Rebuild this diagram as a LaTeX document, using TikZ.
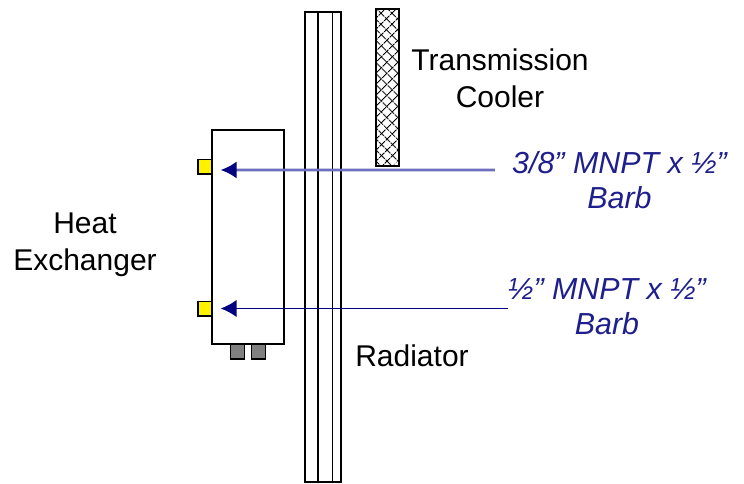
\documentclass[tikz,border=0pt]{standalone}
\usepackage{fontspec}
\setmainfont{Liberation Sans}
\usepackage{xcolor}
\usetikzlibrary{arrows.meta, patterns.meta}
\definecolor{labelblue}{RGB}{30,30,140}
\definecolor{arrowblue}{RGB}{0,0,128}
\definecolor{paleblue}{RGB}{110,110,190}

\begin{document}
\begin{tikzpicture}[
  x=0.75pt, y=-0.75pt,
  every node/.style={font=\fontsize{22.5}{27.75}\selectfont, align=center, inner sep=0pt},
  part/.style={draw, line width=1pt, fill=white, minimum width=54pt, minimum height=160.5pt},
  port/.style={draw, line width=1pt, fill=yellow, minimum width=10.5pt, minimum height=11pt},
  stub/.style={draw, line width=1pt, fill=black!50, minimum width=10.5pt, minimum height=11pt},
  callout/.style={text=labelblue, font=\fontsize{22.8}{26.5}\selectfont\itshape},
  arr/.style={-{Latex[length=12pt, width=13pt, color=arrowblue]}, arrowblue, line width=1.1pt},
]
  \useasboundingbox (0, 0) rectangle (744, 483);

  % radiator core
  \node[part, minimum width=27pt, minimum height=352.5pt] (rad) at (323, 247) {};
  \draw[line width=1pt] (318, 12) -- (318, 482);
  \draw[line width=1pt] (332.5, 12) -- (332.5, 482);

  \node[draw, line width=1.2pt, minimum width=17.25pt, minimum height=117.75pt,
        pattern={Lines[angle=45, distance=6.5pt, line width=0.9pt]},
        preaction={pattern={Lines[angle=-45, distance=6.5pt, line width=0.9pt]}}]
        (cool) at (387.5, 87.5) {};

  \node[part] (hx) at (248, 237) {};
  \node[port] (upper) at (205, 166.5) {};
  \node[port] (lower) at (205, 308.5) {};
  \node[stub] at (237.5, 351.5) (stubl) {};
  \node[stub] at (258.5, 351.5) (stubr) {};

  \node (hxlbl) at (85, 245) {Heat\\Exchanger};
  \node (coollbl) at (500, 78) {Transmission\\Cooler};
  \node (radlbl) at (412, 356) {Radiator};

  \node[callout, inner xsep=12.75pt] (lblA) at (619.5, 180) {3/8" MNPT x ½”\\Barb};
  \node[callout] (lblB) at (607, 306.5) {½” MNPT x ½”\\Barb};

  \draw[arr, draw=paleblue, line width=2pt, shorten >=6pt] (lblA.west |- upper.east) ++(0, 3.5) -- ([yshift=-2.6pt]upper.east);
  \draw[arr, shorten >=6pt] (lblB.west |- lower.east) -- (lower.east);
\end{tikzpicture}
\end{document}
